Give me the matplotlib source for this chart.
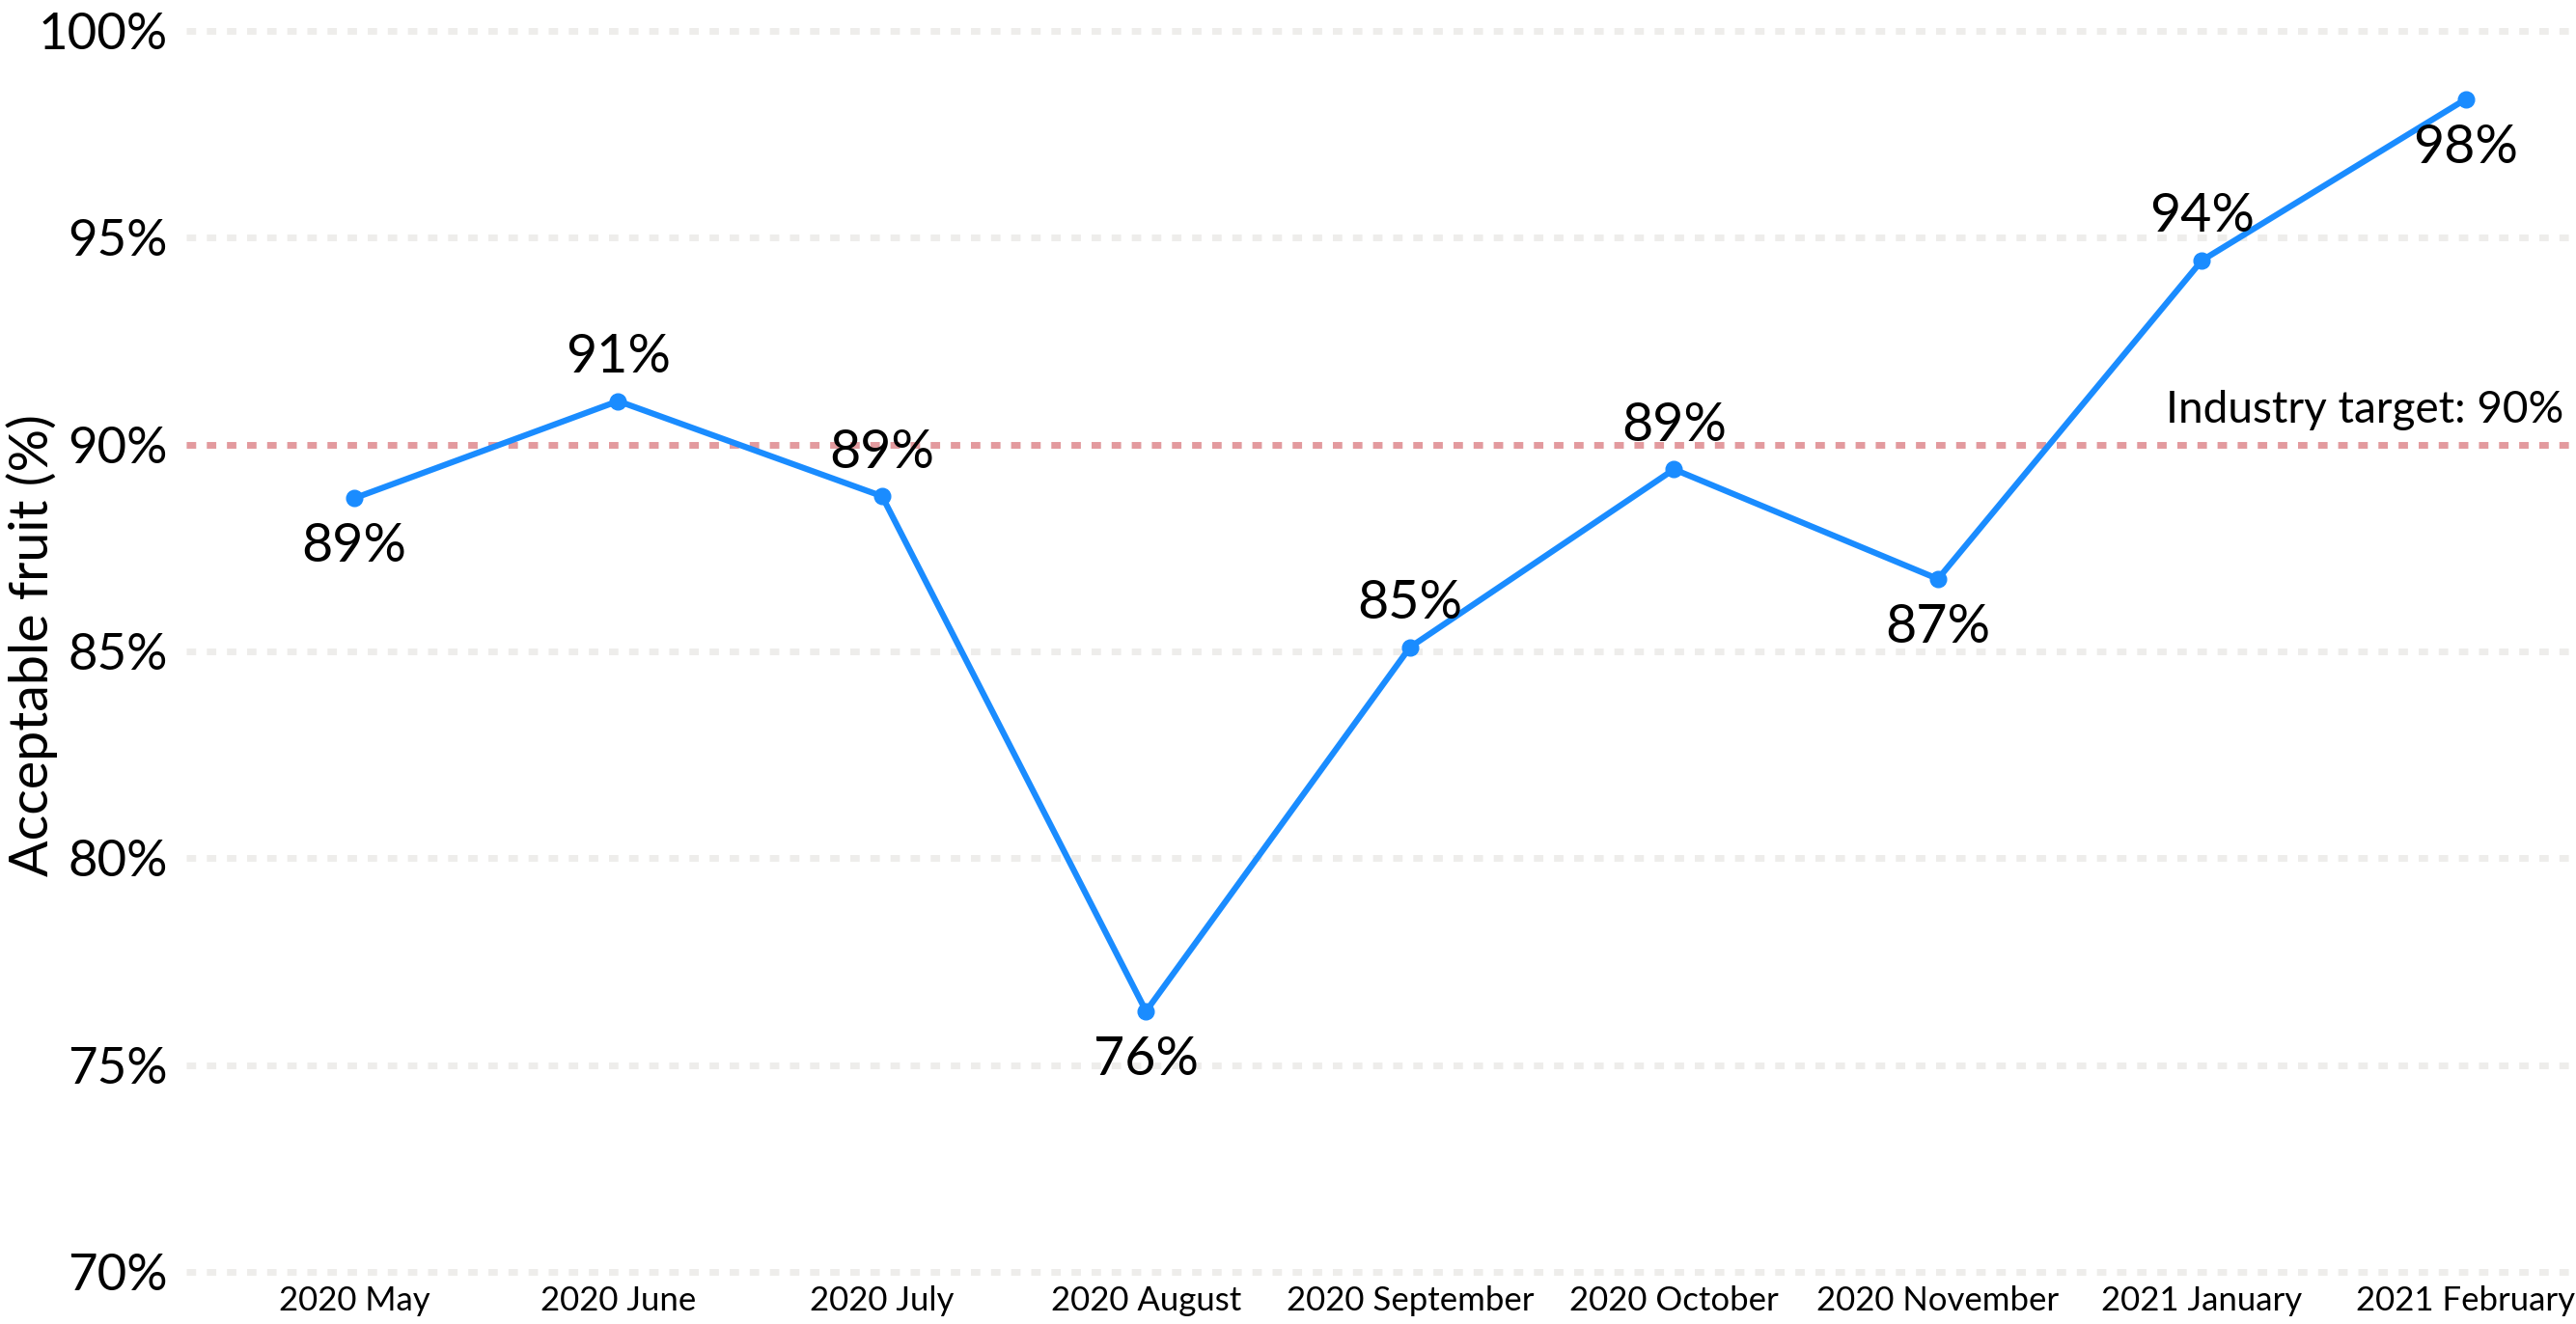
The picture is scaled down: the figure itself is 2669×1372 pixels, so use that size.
import matplotlib
matplotlib.use("Agg")
from matplotlib import pyplot as plt

# Data
months = ["2020 May", "2020 June", "2020 July", "2020 August", "2020 September",
          "2020 October", "2020 November", "2021 January", "2021 February"]
acceptable = [88.7, 91.05, 88.75, 76.3, 85.1, 89.4, 86.75, 94.45, 98.35]
labels = ["89%", "91%", "89%", "76%", "85%", "89%", "87%", "94%", "98%"]
# where each point label sits: 1 = above, -1 = below
label_side = [-1, 1, 1, -1, 1, 1, -1, 1, -1]
target = 90
yticks = [70, 75, 80, 85, 90, 95, 100]

plt.rcParams["font.family"] = ["Lato", "DejaVu Sans"]

fig = plt.figure(figsize=(26.69, 13.72), dpi=100)
ax = fig.add_axes([0.0723, 0.0394, 0.9277, 0.9373])

x = list(range(len(months)))

# target line
ax.axhline(target, color="#e39a9e", linewidth=5, linestyle=(0, (1.4, 1.6)),
           dash_capstyle="butt", zorder=1)
ax.text(8.37, target + 0.35, "Industry target: %d%%" % target, ha="right",
        va="bottom", fontsize=33, color="black")

ax.plot(x, acceptable, color="#1a8cff", linewidth=4.5, marker="o",
        markersize=12, zorder=3)

for xi, yi, lab, side in zip(x, acceptable, labels, label_side):
    if side > 0:
        ax.annotate(lab, (xi, yi), xytext=(0, 14), textcoords="offset points",
                    ha="center", va="bottom", fontsize=40)
    else:
        ax.annotate(lab, (xi, yi), xytext=(0, -18), textcoords="offset points",
                    ha="center", va="top", fontsize=40)

ax.set_xlim(-0.636, 8.417)
ax.set_ylim(70, 100)
ax.set_yticks(yticks)
ax.set_yticklabels(["%d%%" % t for t in yticks], fontsize=38)
ax.set_xticks(x)
ax.set_xticklabels(months, fontsize=25)
ax.tick_params(length=0, axis="y", pad=14)
ax.tick_params(length=0, axis="x", pad=10)
ax.set_ylabel("Acceptable fruit (%)", fontsize=40, va="center")
ax.yaxis.set_label_coords(-0.0646, 0.505)

ax.grid(axis="y", color="#eeedeb", linewidth=5, linestyle=(0, (1.4, 1.6)))
ax.grid(axis="x", visible=False)
ax.set_axisbelow(True)
for gl in ax.get_ygridlines():
    gl.set_clip_on(False)
    gl.set_dash_capstyle("butt")

for s in ax.spines.values():
    s.set_visible(False)

fig.savefig("out.png", dpi=100)
